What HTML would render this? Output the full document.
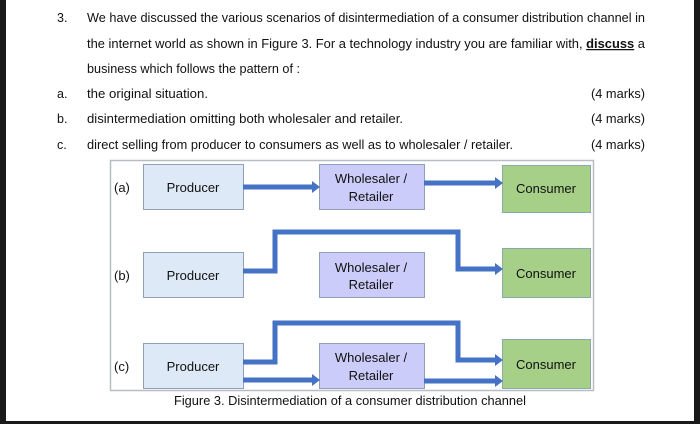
<!DOCTYPE html>
<html><head><meta charset="utf-8"><style>
html,body{margin:0;padding:0;background:#fff;width:700px;height:424px;overflow:hidden}
svg{display:block}
text{font-family:"Liberation Sans",sans-serif;fill:#111}
</style></head><body>
<svg width="700" height="424" viewBox="0 0 700 424" xmlns="http://www.w3.org/2000/svg">
<rect x="0" y="0" width="700" height="424" fill="#fff"/>
<rect x="0" y="0" width="6" height="424" fill="#1a1a1a"/>
<rect x="694" y="0" width="6" height="424" fill="#1a1a1a"/>
<rect x="0" y="421" width="700" height="3" fill="#1a1a1a"/>
<g font-size="12.5">
<text x="57" y="22">3.</text>
<text x="87" y="22" textLength="558" lengthAdjust="spacingAndGlyphs">We have discussed the various scenarios of disintermediation of a consumer distribution channel in</text>
<text x="87" y="48" textLength="558" lengthAdjust="spacingAndGlyphs">the internet world as shown in Figure 3. For a technology industry you are familiar with, <tspan font-weight="bold" text-decoration="underline">discuss</tspan> a</text>
<text x="87" y="73" textLength="213" lengthAdjust="spacingAndGlyphs">business which follows the pattern of :</text>
<text x="57" y="98">a.</text>
<text x="87" y="98" textLength="121" lengthAdjust="spacingAndGlyphs">the original situation.</text>
<text x="591" y="98" textLength="54" lengthAdjust="spacingAndGlyphs">(4 marks)</text>
<text x="57" y="123">b.</text>
<text x="87" y="123" textLength="316" lengthAdjust="spacingAndGlyphs">disintermediation omitting both wholesaler and retailer.</text>
<text x="591" y="123" textLength="54" lengthAdjust="spacingAndGlyphs">(4 marks)</text>
<text x="57" y="149">c.</text>
<text x="87" y="149" textLength="426" lengthAdjust="spacingAndGlyphs">direct selling from producer to consumers as well as to wholesaler / retailer.</text>
<text x="591" y="149" textLength="54" lengthAdjust="spacingAndGlyphs">(4 marks)</text>
</g>
<rect x="110.5" y="160.5" width="483" height="230" fill="#fff" stroke="#b8bcc4" stroke-width="1.5"/>
<g stroke="#8fa0b8" stroke-width="1">
<rect x="143.5" y="164.5" width="100" height="45" fill="#dde9f6"/>
<rect x="319.5" y="164.5" width="105" height="45" fill="#ccccfa"/>
<rect x="502.5" y="165.5" width="88" height="47" fill="#a6cf88" stroke="#8aa"/>
<rect x="143.5" y="252.5" width="100" height="45" fill="#dde9f6"/>
<rect x="319.5" y="252.5" width="105" height="45" fill="#ccccfa"/>
<rect x="502.5" y="248.5" width="88" height="49" fill="#a6cf88" stroke="#8aa"/>
<rect x="143.5" y="343.5" width="100" height="45" fill="#dde9f6"/>
<rect x="319.5" y="343.5" width="105" height="45" fill="#ccccfa"/>
<rect x="502.5" y="339.5" width="88" height="49" fill="#a6cf88" stroke="#8aa"/>
</g>
<g fill="none" stroke="#4472c4" stroke-width="5">
<path d="M243 187H314"/>
<path d="M424 183H497"/>
<path d="M243 271H275V232H458V269H497"/>
<path d="M243 362H275V323H458V360H497"/>
<path d="M243 380H314"/>
<path d="M424 381H497"/>
</g>
<g fill="#4472c4">
<path d="M312 181L320 187L312 193Z"/>
<path d="M495 177L503 183L495 189Z"/>
<path d="M495 263L503 269L495 275Z"/>
<path d="M495 354L503 360L495 366Z"/>
<path d="M312 374L320 380L312 386Z"/>
<path d="M495 375L503 381L495 387Z"/>
</g>
<g font-size="13">
<text x="114" y="192">(a)</text>
<text x="114" y="280">(b)</text>
<text x="114" y="371">(c)</text>
<text x="193" y="192" text-anchor="middle">Producer</text>
<text x="193" y="280" text-anchor="middle">Producer</text>
<text x="193" y="371" text-anchor="middle">Producer</text>
<text x="371" y="183" text-anchor="middle">Wholesaler /</text>
<text x="371" y="201" text-anchor="middle">Retailer</text>
<text x="371" y="272" text-anchor="middle">Wholesaler /</text>
<text x="371" y="289" text-anchor="middle">Retailer</text>
<text x="371" y="362" text-anchor="middle">Wholesaler /</text>
<text x="371" y="380" text-anchor="middle">Retailer</text>
<text x="546" y="193" text-anchor="middle">Consumer</text>
<text x="546" y="278" text-anchor="middle">Consumer</text>
<text x="546" y="369" text-anchor="middle">Consumer</text>
</g>
<text x="174" y="405" font-size="12.5" textLength="352" lengthAdjust="spacingAndGlyphs">Figure 3. Disintermediation of a consumer distribution channel</text>
</svg>
</body></html>
